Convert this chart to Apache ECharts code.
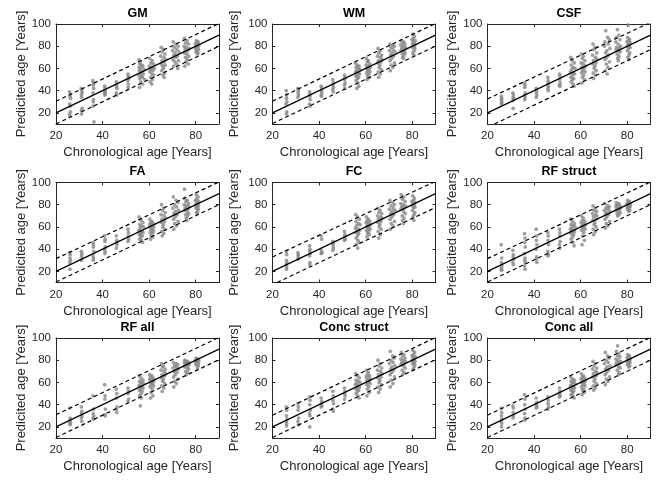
<!DOCTYPE html>
<html><head><meta charset="utf-8">
<script src="https://cdn.jsdelivr.net/npm/echarts@6/dist/echarts.min.js"></script>
<style>html,body{margin:0;padding:0;background:#fff}#c{width:666px;height:484px}</style>
</head><body><div id="c"></div>
<script>
const panelTitles = ['GM','WM','CSF','FA','FC','RF struct','RF all','Conc struct','Conc all'];
const xTickValues = [20,40,60,80];
const yTickValues = [20,40,60,80,100];
const xName = 'Chronological age [Years]';
const yName = 'Predicited age [Years]';
const fitLine = [[20,20],[90,90]];
const upperLines = [
  [[20,30.5],[90,100.5]], [[20,30.5],[90,100.5]], [[20,32.5],[90,101.5]],
  [[20,31.5],[90,100.5]], [[20,33],[90,101]], [[20,31.5],[90,100.5]],
  [[20,31],[90,100.5]], [[20,30.5],[90,100.5]], [[20,30.5],[90,100.5]]
];
const lowerLines = [
  [[20,10],[90,80]], [[20,10.5],[90,80]], [[23,10],[90,77]],
  [[20,10.5],[90,80]], [[22,10],[90,77.5]], [[20,10.5],[90,80]],
  [[20,10.5],[90,80.5]], [[20,10.5],[90,80.5]], [[20,10.5],[90,80]]
];

const ptsGM = [[25.8,39],[26.2,37],[26.0,35],[26.3,33],[25.9,28],[26.1,26],[26.2,21],[25.8,19],[26.0,17],
[30.8,42],[31.1,40],[31.2,38],[30.9,36],[31.0,34],[31.2,24],[30.9,22],[31.0,19],
[35.8,49],[36.1,47],[36.0,45],[36.2,42],[35.9,38],[36.1,32],[36.0,30],[35.9,26],[36.3,12],
[40.9,44],[41.1,42],[41.0,40],[41.2,39],[40.8,38],[41.1,37],[41.0,36],
[45.9,48],[46.1,46],[46.0,44],[46.2,42],[45.9,38],[46.1,36],
[50.9,55],[51.0,53],[51.2,51],[50.8,49],[51.1,46],[51.0,43],
[55.6,68],[56.2,66],[55.9,64],[56.8,63],[57.3,62],[55.7,61],[56.5,60],[57.9,59],[55.8,58],[56.9,57],[56.3,56],[57.5,55],[55.6,54],[56.7,53],[57.1,52],[56.0,51],[58.1,50],[56.4,48],[57.2,46],[55.9,43],
[60.2,69],[61.3,67],[60.8,65],[61.9,64],[60.1,62],[61.0,61],[62.2,60],[60.6,59],[61.6,58],[60.3,57],[61.2,55],[62.0,54],[60.7,52],[61.4,50],[60.4,48],[61.1,46],
[65.2,79],[66.1,77],[65.6,75],[66.8,73],[65.0,71],[66.3,70],[67.1,68],[65.5,67],[66.5,66],[65.3,64],[66.9,63],[65.8,62],[66.2,60],[65.4,58],[66.7,56],[65.9,54],[66.4,52],
[70.3,84],[71.5,82],[72.4,80],[70.8,79],[71.9,77],[70.1,76],[72.8,75],[71.2,74],[70.6,72],[72.1,71],[71.4,70],[70.2,68],[72.6,67],[71.0,66],[71.8,64],[70.5,62],[72.3,60],
[75.1,87],[76.3,85],[75.7,83],[76.9,82],[75.0,80],[76.0,79],[77.2,78],[75.4,77],[76.6,76],[75.2,74],[76.2,73],[77.0,71],[75.6,70],[76.4,68],[75.9,66],[76.8,64],[75.3,62],
[80.2,85],[81.1,84],[80.6,83],[79.8,82],[81.4,81],[80.3,80],[80.9,79],[79.9,78],[81.2,77],[80.5,76],[80.1,75],[81.0,74],[80.7,73]];

const ptsWM = [[25.9,40],[26.1,36],[26.0,33],[26.2,30],[25.8,28],[26.1,21],[26.0,19],
[30.9,42],[31.1,40],[31.0,38],[31.2,36],[30.9,34],
[35.9,39],[36.1,37],[36.0,35],[36.2,32],[35.9,28],[36.1,26],
[40.9,44],[41.1,42],[41.0,40],[41.2,38],[40.9,36],[41.1,35],
[45.9,50],[46.1,47],[46.0,45],[46.2,43],[45.9,41],[46.1,39],
[50.9,54],[51.1,52],[51.0,50],[51.2,47],[50.9,45],[51.1,42],
[55.6,65],[56.4,63],[57.2,62],[55.9,61],[56.8,60],[57.6,59],[56.1,58],[55.7,57],[56.9,56],[57.4,55],[56.3,54],[55.8,53],[57.0,52],[56.5,51],[55.9,49],[56.7,47],[57.1,44],[56.2,42],
[60.3,69],[61.2,67],[60.7,66],[61.8,64],[60.2,63],[61.1,62],[62.0,61],[60.5,60],[61.5,59],[60.9,58],[61.9,57],[60.4,56],[61.3,55],[60.8,53],[61.6,52],[60.6,50],
[65.3,78],[66.2,76],[65.7,74],[66.9,72],[65.1,71],[66.4,70],[67.0,68],[65.5,67],[66.6,66],[65.2,65],[66.1,63],[65.8,61],[66.7,59],[65.4,57],[66.3,55],[65.6,52],
[70.4,82],[71.6,81],[72.3,80],[70.9,79],[71.8,77],[70.2,76],[72.6,75],[71.3,74],[70.7,72],[72.0,71],[71.2,69],[70.5,67],[72.4,65],[71.0,63],[71.7,61],[70.6,58],
[75.3,85],[76.4,84],[75.8,83],[76.9,82],[75.1,81],[76.1,80],[77.1,79],[75.5,78],[76.6,77],[75.2,76],[76.3,75],[77.0,74],[75.7,73],[76.5,72],[75.9,70],[76.2,69],
[80.2,91],[81.0,89],[80.5,87],[79.9,86],[81.3,85],[80.4,84],[80.9,83],[80.0,82],[81.2,81],[80.6,80],[80.1,79],[81.1,78],[80.8,76],[80.3,74],[80.7,72]];

const ptsCSF = [[25.9,35],[26.1,33],[26.0,32],[26.2,30],[25.9,29],[26.1,28],
[30.9,38],[31.1,36],[31.0,34],[31.2,33],[30.9,31],[31.0,24],
[35.9,47],[36.1,45],[36.0,43],[36.2,38],[35.9,36],[36.1,34],[36.0,32],
[40.9,42],[41.1,40],[41.0,38],[41.2,36],[40.9,34],
[45.9,52],[46.1,49],[46.0,47],[46.2,44],[45.9,42],[46.1,40],
[50.9,55],[51.1,53],[51.0,50],[51.2,47],[50.9,45],[51.1,44],
[55.7,70],[56.5,67],[57.3,65],[55.9,63],[56.8,61],[57.6,60],[56.1,59],[55.6,57],[56.9,56],[57.4,55],[56.3,54],[55.8,52],[57.0,51],[56.5,50],[55.9,48],[56.7,46],[57.2,44],
[60.3,73],[61.2,71],[60.7,69],[61.8,67],[60.2,65],[61.1,64],[62.0,62],[60.5,61],[61.5,60],[60.9,58],[61.9,57],[60.4,56],[61.3,54],[60.8,52],[61.6,50],[60.6,47],
[65.3,82],[66.2,79],[65.7,77],[66.9,74],[65.1,72],[66.4,70],[67.0,68],[65.5,67],[66.6,65],[65.2,64],[66.1,62],[65.8,60],[66.7,58],[65.4,56],[66.3,54],[65.6,51],
[70.8,94],[71.6,88],[72.3,86],[70.4,84],[71.8,82],[70.2,80],[72.6,78],[71.3,76],[70.7,74],[72.0,72],[71.2,70],[70.5,68],[72.4,66],[71.0,64],[71.7,61],[70.6,58],[71.4,55],
[75.8,95],[76.4,90],[75.3,88],[76.9,86],[75.1,84],[76.1,82],[77.1,80],[75.5,79],[76.6,78],[75.2,77],[76.3,76],[77.0,75],[75.7,73],[76.5,71],[75.9,69],[76.2,67],
[80.4,99],[80.2,88],[81.0,86],[80.5,85],[79.9,84],[81.3,83],[80.4,82],[80.9,81],[80.0,80],[81.2,79],[80.6,78],[80.1,76],[81.1,74],[80.8,72],[80.3,70],[80.7,68]];

const ptsFA = [[25.9,37],[26.1,35],[26.0,32],[26.2,30],[25.9,28],[26.0,22],
[30.9,38],[31.1,36],[31.0,34],[31.2,32],[30.9,30],
[35.9,46],[36.1,44],[36.0,42],[36.2,38],[35.9,34],[36.1,32],[36.0,30],
[40.9,52],[41.1,49],[41.0,47],[41.2,42],[40.9,40],[41.1,38],[41.0,36],
[45.9,52],[46.1,48],[46.0,46],[46.2,44],[45.9,41],
[50.9,58],[51.1,55],[51.0,52],[51.2,49],[50.9,47],
[55.7,69],[56.5,66],[57.3,64],[55.9,62],[56.8,61],[57.6,60],[56.1,59],[55.6,57],[56.9,56],[57.4,55],[56.3,54],[55.8,53],[57.0,52],[56.5,51],[55.9,49],[56.7,48],[57.2,46],
[60.3,67],[61.2,65],[60.7,64],[61.8,63],[60.2,62],[61.1,61],[62.0,60],[60.5,59],[61.5,58],[60.9,57],[61.9,56],[60.4,55],[61.3,54],[60.8,52],[61.6,51],[60.6,49],
[65.3,80],[66.2,77],[65.7,75],[66.9,73],[65.1,71],[66.4,70],[67.0,68],[65.5,67],[66.6,65],[65.2,64],[66.1,62],[65.8,60],[66.7,58],[65.4,56],[66.3,54],[65.6,52],
[70.4,87],[71.6,84],[72.3,82],[70.9,80],[71.8,78],[70.2,77],[72.6,75],[71.3,74],[70.7,72],[72.0,71],[71.2,69],[70.5,67],[72.4,65],[71.0,63],[71.7,61],[70.6,58],
[75.2,94],[75.3,86],[76.4,84],[75.8,83],[76.9,81],[75.1,80],[76.1,79],[77.1,78],[75.5,77],[76.6,76],[75.2,75],[76.3,74],[77.0,72],[75.7,71],[76.5,70],[75.9,68],[76.2,66],
[80.2,89],[81.0,87],[80.5,85],[79.9,84],[81.3,83],[80.4,82],[80.9,81],[80.0,80],[81.2,79],[80.6,78],[80.1,77],[81.1,76],[80.8,74],[80.3,73],[80.7,72]];

const ptsFC = [[25.9,38],[26.1,35],[26.0,30],[26.2,28],[25.9,26],[26.1,24],[26.0,22],
[30.9,37],[31.1,35],[31.0,34],[31.2,32],[30.9,31],
[35.9,43],[36.1,40],[36.0,38],[36.2,36],[35.9,34],[36.1,28],[36.0,26],
[40.9,52],[41.1,49],[41.0,39],[41.2,37],[40.9,36],[41.1,36.5],
[45.9,47],[46.1,45],[46.0,43],[46.2,41],[45.9,39],
[50.9,56],[51.1,53],[51.0,51],[51.2,49],[50.9,48],
[55.7,71],[56.5,69],[57.3,67],[55.9,65],[56.8,63],[57.6,62],[56.1,61],[55.6,59],[56.9,58],[57.4,57],[56.3,56],[55.8,55],[57.0,54],[56.5,52],[55.9,50],[56.7,48],[57.2,46],[56.0,44],[56.6,41],
[60.3,69],[61.2,67],[60.7,66],[61.8,65],[60.2,64],[61.1,63],[62.0,62],[60.5,61],[61.5,60],[60.9,59],[61.9,58],[60.4,57],[61.3,56],[60.8,54],[61.6,53],[60.6,51],
[65.3,77],[66.2,75],[65.7,73],[66.9,72],[65.1,70],[66.4,69],[67.0,68],[65.5,67],[66.6,65],[65.2,64],[66.1,62],[65.8,60],[66.7,58],[65.4,56],[66.3,53],[65.6,50],
[70.4,84],[71.6,82],[72.3,80],[70.9,79],[71.8,77],[70.2,76],[72.6,75],[71.3,74],[70.7,72],[72.0,71],[71.2,69],[70.5,67],[72.4,65],[71.0,63],[71.7,61],[70.6,58],
[75.3,89],[76.4,87],[75.8,85],[76.9,83],[75.1,81],[76.1,80],[77.1,79],[75.5,78],[76.6,77],[75.2,76],[76.3,74],[77.0,72],[75.7,70],[76.5,68],[75.9,66],[76.2,63],
[80.2,88],[81.0,86],[80.5,84],[79.9,83],[81.3,82],[80.4,81],[80.9,80],[80.0,79],[81.2,78],[80.6,77],[80.1,75],[81.1,73],[80.8,71],[80.3,69],[80.7,66]];

const ptsRFs = [[25.9,44],[26.1,32],[26.0,28],[26.2,25],[25.9,23],[26.1,22],[26.0,21],
[30.9,39],[31.1,35],[31.0,33],[31.2,31],[30.9,28],[31.1,26],
[35.9,54],[36.1,50],[36.0,46],[36.2,42],[35.9,36],[36.1,32],[36.0,30],[36.2,28],[35.9,25],[36.1,22],
[40.9,58],[41.1,52],[41.0,48],[41.2,44],[40.9,40],[41.1,33],[41.0,31],[41.2,28],
[45.9,55],[46.1,52],[46.0,48],[46.2,44],[45.9,38],[46.1,35],[46.0,34],
[50.9,58],[51.1,55],[51.0,52],[51.2,47],[50.9,44],[51.1,41],
[55.7,67],[56.5,65],[57.3,63],[55.9,62],[56.8,61],[57.6,60],[56.1,59],[55.6,58],[56.9,57],[57.4,56],[56.3,55],[55.8,54],[57.0,53],[56.5,51],[55.9,49],[56.7,46],[57.2,43],
[60.3,70],[61.2,68],[60.7,66],[61.8,65],[60.2,64],[61.1,63],[62.0,62],[60.5,61],[61.5,60],[60.9,59],[61.9,58],[60.4,57],[61.3,55],[60.8,52],[61.6,48],[60.6,44],
[65.3,79],[66.2,77],[65.7,75],[66.9,74],[65.1,72],[66.4,71],[67.0,70],[65.5,69],[66.6,67],[65.2,66],[66.1,64],[65.8,62],[66.7,60],[65.4,58],[66.3,56],[65.6,53],
[70.4,81],[71.6,79],[72.3,78],[70.9,77],[71.8,76],[70.2,75],[72.6,74],[71.3,73],[70.7,72],[72.0,71],[71.2,69],[70.5,67],[72.4,65],[71.0,63],[71.7,61],[70.6,59],
[75.3,82],[76.4,81],[75.8,80],[76.9,79],[75.1,79],[76.1,78],[77.1,77],[75.5,77],[76.6,76],[75.2,75],[76.3,74],[77.0,73],[75.7,72],[76.5,71],[75.9,70],
[80.2,84],[81.0,83],[80.5,82],[79.9,81],[81.3,80],[80.4,80],[80.9,79],[80.0,78],[81.2,78],[80.6,77],[80.1,76],[81.1,75],[80.7,74]];

const ptsRFa = [[25.9,37],[26.1,28],[26.0,26],[26.2,24],[25.9,23],[26.1,22],
[30.9,38],[31.1,34],[31.0,32],[31.2,30],[30.9,28],[31.1,25],
[35.9,48],[36.1,36],[36.0,32],[36.2,30],[35.9,28],[36.1,27],
[40.9,58],[41.1,48],[41.0,45],[41.2,36],[40.9,31],[41.1,30],
[45.9,54],[46.1,50],[46.0,46],[46.2,38],[45.9,36],[46.1,33],
[50.9,55],[51.1,52],[51.0,50],[51.2,45],[50.9,43],
[55.7,66],[56.5,64],[57.3,62],[55.9,61],[56.8,60],[57.6,59],[56.1,58],[55.6,57],[56.9,56],[57.4,55],[56.3,54],[55.8,53],[57.0,52],[56.5,50],[55.9,48],[56.7,46],[56.2,39],
[60.3,67],[61.2,66],[60.7,65],[61.8,64],[60.2,63],[61.1,62],[62.0,61],[60.5,60],[61.5,59],[60.9,58],[61.9,57],[60.4,56],[61.3,54],[60.8,51],[61.6,48],[60.6,46],
[65.3,77],[66.2,75],[65.7,74],[66.9,72],[65.1,71],[66.4,70],[67.0,68],[65.5,67],[66.6,66],[65.2,64],[66.1,63],[65.8,61],[66.7,59],[65.4,57],[66.3,55],[65.6,52],
[70.4,78],[71.6,77],[72.3,76],[70.9,75],[71.8,74],[70.2,73],[72.6,72],[71.3,71],[70.7,70],[72.0,69],[71.2,67],[70.5,65],[72.4,63],[71.0,61],[71.7,59],[70.6,56],
[75.3,80],[76.4,79],[75.8,79],[76.9,78],[75.1,78],[76.1,77],[77.1,76],[75.5,76],[76.6,75],[75.2,74],[76.3,73],[77.0,72],[75.7,70],[76.5,69],[75.9,67],
[80.2,82],[81.0,81],[80.5,81],[79.9,80],[81.3,80],[80.4,79],[80.9,79],[80.0,78],[81.2,77],[80.6,77],[80.1,76],[81.1,75],[80.7,73]];

const ptsCs = [[25.9,38],[26.1,35],[26.0,30],[26.2,27],[25.9,25],[26.1,23],[26.0,21],
[30.9,41],[31.1,38],[31.0,35],[31.2,28],[30.9,25],[31.1,22],
[35.9,47],[36.1,44],[36.0,40],[36.2,35],[35.9,32],[36.1,30],[36.0,20],
[40.9,46],[41.1,43],[41.0,41],[41.2,39],[40.9,38],
[45.9,52],[46.1,48],[46.0,44],[46.2,41],[45.9,36],[46.1,34],
[50.9,55],[51.1,52],[51.0,50],[51.2,48],[50.9,45],
[55.7,68],[56.5,66],[57.3,64],[55.9,62],[56.8,61],[57.6,60],[56.1,59],[55.6,58],[56.9,57],[57.4,56],[56.3,55],[55.8,54],[57.0,53],[56.5,52],[55.9,50],[56.7,48],[57.2,46],
[60.3,71],[61.2,69],[60.7,67],[61.8,66],[60.2,65],[61.1,64],[62.0,63],[60.5,62],[61.5,61],[60.9,60],[61.9,59],[60.4,58],[61.3,56],[60.8,54],[61.6,51],[60.6,48],
[65.3,80],[66.2,77],[65.7,75],[66.9,73],[65.1,71],[66.4,70],[67.0,68],[65.5,67],[66.6,65],[65.2,64],[66.1,62],[65.8,60],[66.7,58],[65.4,56],[66.3,54],[65.6,51],
[70.6,88],[71.6,84],[72.3,82],[70.9,80],[71.8,78],[70.2,77],[72.6,75],[71.3,74],[70.7,72],[72.0,71],[71.2,69],[70.5,67],[72.4,65],[71.0,62],[71.7,59],[70.6,56],
[75.3,87],[76.4,85],[75.8,84],[76.9,82],[75.1,81],[76.1,80],[77.1,79],[75.5,78],[76.6,77],[75.2,76],[76.3,75],[77.0,73],[75.7,71],[76.5,69],[75.9,67],
[80.2,89],[81.0,87],[80.5,85],[79.9,84],[81.3,83],[80.4,82],[80.9,81],[80.0,80],[81.2,79],[80.6,78],[80.1,77],[81.1,76],[80.8,74],[80.3,72]];

const ptsCa = [[25.9,37],[26.1,33],[26.0,30],[26.2,27],[25.9,25],[26.1,23],[26.0,20],
[30.9,39],[31.1,37],[31.0,33],[31.2,30],[30.9,28],
[35.9,49],[36.1,45],[36.0,40],[36.2,36],[35.9,32],[36.1,28],[36.0,26],
[40.9,46],[41.1,42],[41.0,40],[41.2,38],[40.9,37],
[45.9,47],[46.1,44],[46.0,41],[46.2,38],[45.9,36],
[50.9,55],[51.1,52],[51.0,50],[51.2,48],[50.9,47],
[55.7,65],[56.5,63],[57.3,62],[55.9,61],[56.8,60],[57.6,59],[56.1,58],[55.6,57],[56.9,56],[57.4,55],[56.3,54],[55.8,53],[57.0,52],[56.5,51],[55.9,49],[56.7,48],[57.2,46],
[60.3,68],[61.2,66],[60.7,65],[61.8,64],[60.2,63],[61.1,62],[62.0,61],[60.5,60],[61.5,59],[60.9,58],[61.9,57],[60.4,56],[61.3,54],[60.8,53],[61.6,51],[60.6,49],
[65.3,79],[66.2,77],[65.7,75],[66.9,73],[65.1,72],[66.4,70],[67.0,69],[65.5,68],[66.6,66],[65.2,65],[66.1,63],[65.8,61],[66.7,59],[65.4,57],[66.3,55],[65.6,53],
[70.6,87],[71.6,84],[72.3,82],[70.9,80],[71.8,78],[70.2,77],[72.6,75],[71.3,74],[70.7,72],[72.0,71],[71.2,69],[70.5,67],[72.4,65],[71.0,63],[71.7,61],[70.6,58],
[75.9,93],[75.3,88],[76.4,86],[75.8,84],[76.9,83],[75.1,81],[76.1,80],[77.1,79],[75.5,78],[76.6,77],[75.2,76],[76.3,74],[77.0,73],[75.7,71],[76.5,69],[76.2,67],
[80.2,85],[81.0,84],[80.5,83],[79.9,82],[81.3,81],[80.4,80],[80.9,80],[80.0,79],[81.2,78],[80.6,77],[80.1,76],[81.1,75],[80.7,74]];

const panelPoints = [ptsGM, ptsWM, ptsCSF, ptsFA, ptsFC, ptsRFs, ptsRFa, ptsCs, ptsCa];

// layout
const colLeft = [56, 272.5, 487.5];
const rowTop = [24, 182.5, 338];
const gw = 163, gh = 100;
const yNameGap = [27, 32, 28];
const FONT = '"Liberation Sans", Arial, Helvetica, sans-serif';
const AX = '#262626';

const grids = [], xAxes = [], yAxes = [], series = [], titles = [];
panelTitles.forEach((t, i) => {
  const r = Math.floor(i / 3), c = i % 3;
  grids.push({ left: colLeft[c], top: rowTop[r], width: gw, height: gh, containLabel: false });
  titles.push({ text: t, left: colLeft[c] + gw / 2, top: rowTop[r] - 17, textAlign: 'center', padding: 0,
    textStyle: { fontFamily: FONT, fontSize: 12.5, fontWeight: 'bold', color: '#000' } });
  const common = { min: 20, max: 90, type: 'value', gridIndex: i, splitLine: { show: false },
    axisLine: { show: true, onZero: false, lineStyle: { color: AX, width: 1 } } };
  xAxes.push(Object.assign({}, common, {
    position: 'bottom', name: xName, nameLocation: 'middle', nameGap: 22,
    nameTextStyle: { fontFamily: FONT, fontSize: 13, color: AX },
    axisTick: { show: true, inside: true, length: 3, customValues: xTickValues, lineStyle: { color: AX } },
    axisLabel: { show: true, margin: 6, customValues: xTickValues, fontFamily: FONT, fontSize: 11.5, color: AX }
  }));
  xAxes.push(Object.assign({}, common, {
    position: 'top',
    axisTick: { show: true, inside: true, length: 3, customValues: xTickValues, lineStyle: { color: AX } },
    axisLabel: { show: false }
  }));
  const ycommon = { min: 10, max: 100, type: 'value', gridIndex: i, splitLine: { show: false },
    axisLine: { show: true, onZero: false, lineStyle: { color: AX, width: 1 } } };
  yAxes.push(Object.assign({}, ycommon, {
    position: 'left', name: yName, nameLocation: 'middle', nameGap: yNameGap[c],
    nameTextStyle: { fontFamily: FONT, fontSize: 13, color: AX },
    axisTick: { show: true, inside: true, length: 3, customValues: yTickValues, lineStyle: { color: AX } },
    axisLabel: { show: true, margin: 5, customValues: yTickValues, fontFamily: FONT, fontSize: 11.5, color: AX }
  }));
  yAxes.push(Object.assign({}, ycommon, {
    position: 'right',
    axisTick: { show: true, inside: true, length: 3, customValues: yTickValues, lineStyle: { color: AX } },
    axisLabel: { show: false }
  }));
  series.push({ type: 'scatter', xAxisIndex: 2 * i, yAxisIndex: 2 * i, data: panelPoints[i],
    symbolSize: 3.7, itemStyle: { color: '#878787' }, z: 2, silent: true });
  series.push({ type: 'line', xAxisIndex: 2 * i, yAxisIndex: 2 * i, data: fitLine, symbol: 'none',
    lineStyle: { color: '#000', width: 1.2 }, z: 3, clip: true, silent: true });
  series.push({ type: 'line', xAxisIndex: 2 * i, yAxisIndex: 2 * i, data: upperLines[i], symbol: 'none',
    lineStyle: { color: '#000', width: 1.2, type: [4, 3] }, z: 3, clip: true, silent: true });
  series.push({ type: 'line', xAxisIndex: 2 * i, yAxisIndex: 2 * i, data: lowerLines[i], symbol: 'none',
    lineStyle: { color: '#000', width: 1.2, type: [4, 3] }, z: 3, clip: true, silent: true });
});

const chart = echarts.init(document.getElementById('c'), null, { renderer: 'canvas' });
chart.setOption({ animation: false, backgroundColor: '#fff', title: titles, grid: grids,
  xAxis: xAxes, yAxis: yAxes, series: series });
</script></body></html>
